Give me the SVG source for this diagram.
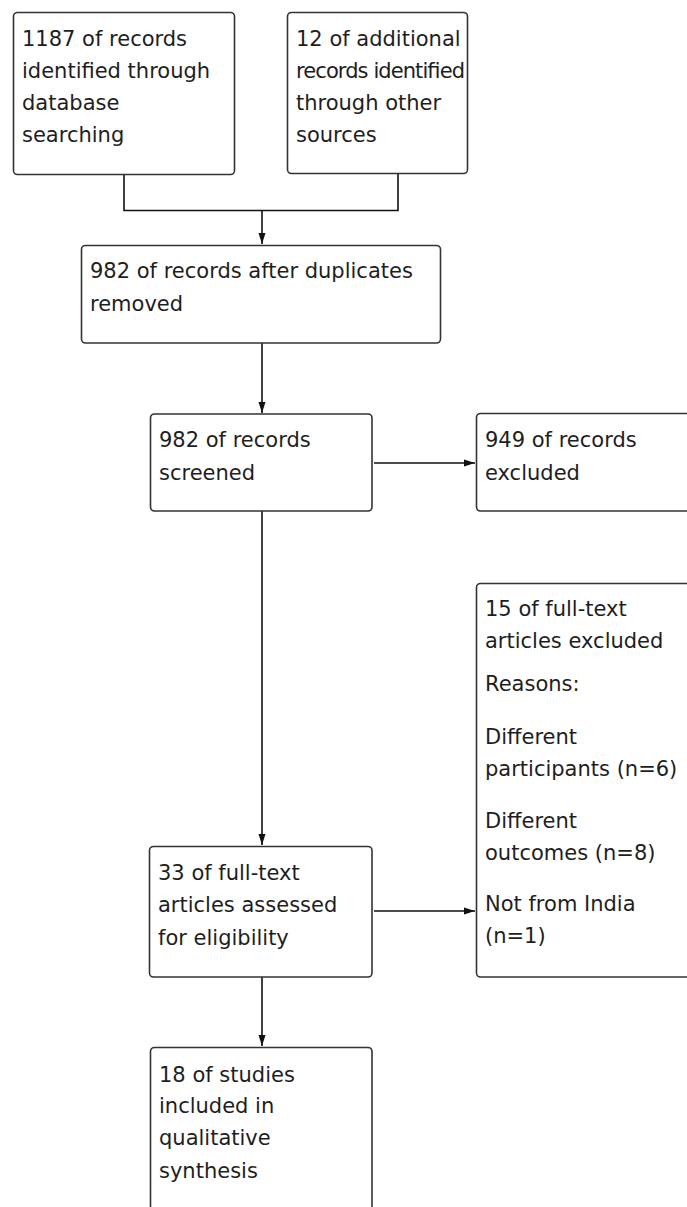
<svg xmlns="http://www.w3.org/2000/svg" width="687" height="1207" viewBox="0 0 687 1207">
<style>
.box{fill:#ffffff;stroke:#333333;stroke-width:1.6}
.t{font-family:"DejaVu Sans",Verdana,sans-serif;font-size:21px;fill:#1e1e1e}
.c{fill:none;stroke:#111111;stroke-width:1.6}
</style>
<defs>
<marker id="ah" markerUnits="userSpaceOnUse" markerWidth="14" markerHeight="10" refX="11" refY="4" orient="auto">
<path d="M0,0.5 L11,4 L0,7.5 z" fill="#111111"/>
</marker>
</defs>
<rect width="687" height="1207" fill="#ffffff"/>
<g id="connectors">
<path class="c" d="M124,174 V210.5 H398 V173"/>
<path class="c" d="M262,210.5 V244" marker-end="url(#ah)"/>
<path class="c" d="M262,343 V413" marker-end="url(#ah)"/>
<path class="c" d="M374,463 H475" marker-end="url(#ah)"/>
<path class="c" d="M262,511 V845" marker-end="url(#ah)"/>
<path class="c" d="M374,911 H475" marker-end="url(#ah)"/>
<path class="c" d="M262,977 V1046" marker-end="url(#ah)"/>
</g>
<g id="n1">
<rect class="box" x="13.5" y="12.5" width="221" height="162" rx="4"/>
<text class="t" x="22" y="45.5">1187 of records</text>
<text class="t" x="22" y="77.5">identified through</text>
<text class="t" x="22" y="109.5">database</text>
<text class="t" x="22" y="141.5">searching</text>
</g>
<g id="n2">
<rect class="box" x="287.5" y="12.5" width="180" height="161" rx="4"/>
<text class="t" x="296" y="45.5">12 of additional</text>
<text class="t" x="296" y="77.5" textLength="169" lengthAdjust="spacing">records identified</text>
<text class="t" x="296" y="109.5">through other</text>
<text class="t" x="296" y="141.5">sources</text>
</g>
<g id="n3">
<rect class="box" x="81.5" y="245.5" width="359" height="97.5" rx="4"/>
<text class="t" x="90" y="278">982 of records after duplicates</text>
<text class="t" x="90" y="311">removed</text>
</g>
<g id="n4">
<rect class="box" x="150.5" y="414" width="221.5" height="97" rx="4"/>
<text class="t" x="159" y="447">982 of records</text>
<text class="t" x="159" y="480">screened</text>
</g>
<g id="n5">
<rect class="box" x="476.5" y="413.5" width="230" height="97.5" rx="4"/>
<text class="t" x="485" y="447">949 of records</text>
<text class="t" x="485" y="480">excluded</text>
</g>
<g id="n6">
<rect class="box" x="149.5" y="846.5" width="222.5" height="130.5" rx="4"/>
<text class="t" x="158" y="880">33 of full-text</text>
<text class="t" x="158" y="912">articles assessed</text>
<text class="t" x="158" y="945">for eligibility</text>
</g>
<g id="n7">
<rect class="box" x="476.5" y="583.5" width="230" height="393.5" rx="4"/>
<text class="t" x="485" y="616">15 of full-text</text>
<text class="t" x="485" y="648">articles excluded</text>
<text class="t" x="485" y="691">Reasons:</text>
<text class="t" x="485" y="744">Different</text>
<text class="t" x="485" y="776">participants (n=6)</text>
<text class="t" x="485" y="828">Different</text>
<text class="t" x="485" y="860">outcomes (n=8)</text>
<text class="t" x="485" y="911">Not from India</text>
<text class="t" x="485" y="943">(n=1)</text>
</g>
<g id="n8">
<rect class="box" x="150.5" y="1047.5" width="221.5" height="180" rx="4"/>
<text class="t" x="159" y="1082">18 of studies</text>
<text class="t" x="159" y="1113">included in</text>
<text class="t" x="159" y="1145">qualitative</text>
<text class="t" x="159" y="1178">synthesis</text>
</g>
</svg>
